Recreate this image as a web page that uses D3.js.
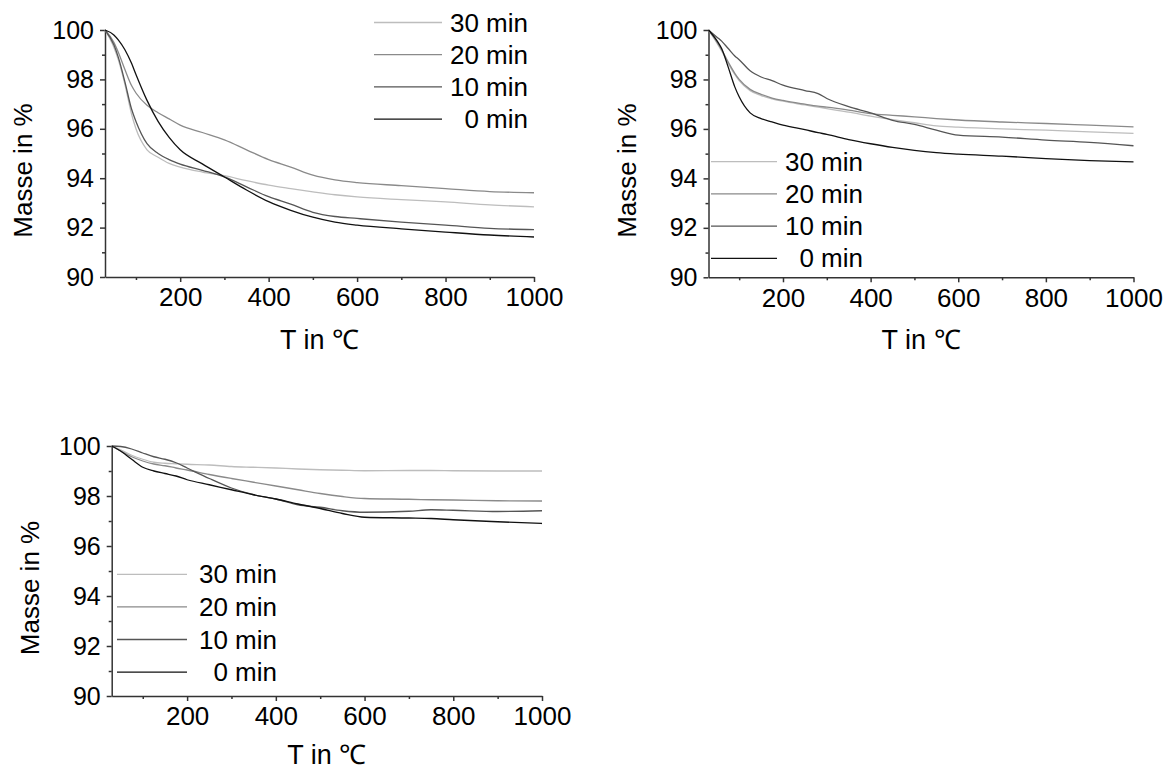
<!DOCTYPE html>
<html>
<head>
<meta charset="utf-8">
<script src="https://cdn.jsdelivr.net/npm/d3@7"></script>
<style>
  body { margin: 0; background: #fff; }
  svg { display: block; font-family: "Liberation Sans", Arial, sans-serif; }
</style>
</head>
<body>
<div id="app"></div>
<script>
// series names, legend order top to bottom
const seriesNames = ["30 min", "20 min", "10 min", "0 min"];
const seriesColors = ["#bdbdbd", "#8a8a8a", "#555555", "#111111"];

const yTicks = [90, 92, 94, 96, 98, 100];
const yMinor = [91, 93, 95, 97, 99];
const xTicks = [200, 400, 600, 800, 1000];
const xMinor = [100, 300, 500, 700, 900];

// panel 1 (top left)
const tempA = [30, 50, 60, 75, 90, 100, 125, 150, 175, 200, 250, 300, 350, 400, 450, 500, 550, 600, 700, 800, 900, 1000];
const massA30 = [100, 99.3, 98.8, 97.8, 96.6, 96.0, 95.15, 94.85, 94.6, 94.45, 94.25, 94.1, 93.9, 93.72, 93.58, 93.45, 93.33, 93.24, 93.13, 93.04, 92.92, 92.84];
const massA20 = [100, 99.5, 99.1, 98.4, 97.75, 97.45, 96.95, 96.65, 96.4, 96.15, 95.85, 95.55, 95.15, 94.75, 94.45, 94.12, 93.93, 93.82, 93.7, 93.58, 93.46, 93.41];
const massA10 = [100, 99.4, 98.9, 97.9, 96.8, 96.3, 95.4, 95.0, 94.75, 94.57, 94.32, 94.05, 93.65, 93.25, 92.95, 92.62, 92.45, 92.37, 92.22, 92.1, 91.97, 91.92];
const massA0 = [100, 99.8, 99.6, 99.2, 98.65, 98.2, 97.15, 96.3, 95.65, 95.15, 94.58, 94.05, 93.52, 93.05, 92.7, 92.42, 92.22, 92.1, 91.95, 91.82, 91.7, 91.62];

// panel 2 (top right)
const tempB = [30, 50, 60, 75, 90, 100, 125, 150, 175, 200, 250, 280, 300, 350, 400, 450, 500, 550, 600, 700, 800, 900, 1000];
const massB30 = [100, 99.45, 99.15, 98.65, 98.2, 97.95, 97.55, 97.35, 97.22, 97.12, 96.97, 96.88, 96.82, 96.68, 96.52, 96.38, 96.25, 96.12, 96.07, 96.0, 95.95, 95.88, 95.82];
const massB20 = [100, 99.5, 99.2, 98.7, 98.25, 98.0, 97.6, 97.4, 97.25, 97.15, 97.0, 96.92, 96.88, 96.76, 96.62, 96.55, 96.49, 96.42, 96.36, 96.28, 96.22, 96.15, 96.08];
const massB10 = [100, 99.7, 99.55, 99.25, 98.95, 98.8, 98.35, 98.1, 97.95, 97.77, 97.55, 97.43, 97.23, 96.9, 96.65, 96.35, 96.18, 95.95, 95.75, 95.67, 95.55, 95.46, 95.32];
const massB0 = [100, 99.55, 99.25, 98.5, 97.7, 97.3, 96.65, 96.42, 96.28, 96.15, 95.97, 95.85, 95.78, 95.57, 95.4, 95.25, 95.13, 95.04, 94.98, 94.9, 94.8, 94.72, 94.67];

// panel 3 (bottom left)
const tempC = [30, 50, 75, 100, 125, 150, 175, 200, 250, 300, 350, 400, 450, 500, 550, 600, 700, 750, 800, 900, 1000];
const massC30 = [100, 99.85, 99.63, 99.47, 99.35, 99.31, 99.29, 99.27, 99.24, 99.18, 99.15, 99.12, 99.08, 99.05, 99.03, 99.01, 99.02, 99.02, 99.01, 99.0, 99.0];
const massC20 = [100, 99.8, 99.57, 99.4, 99.28, 99.21, 99.12, 99.04, 98.86, 98.7, 98.55, 98.4, 98.25, 98.1, 97.98, 97.9, 97.87, 97.85, 97.84, 97.81, 97.8];
const massC10 = [100, 99.98, 99.88, 99.72, 99.57, 99.47, 99.33, 99.12, 98.7, 98.32, 98.05, 97.88, 97.65, 97.55, 97.41, 97.35, 97.39, 97.45, 97.43, 97.38, 97.41];
const massC0 = [100, 99.8, 99.47, 99.15, 99.0, 98.9, 98.8, 98.65, 98.45, 98.25, 98.05, 97.88, 97.68, 97.5, 97.3, 97.15, 97.12, 97.1, 97.05, 96.97, 96.9];

// panel placement + legend placement
const panels = [
  { temps: tempA, series: [massA30, massA20, massA10, massA0],
    box: [105, 534, 30, 277], titleY: 72, legend: { x1: 374, x2: 442, tx: 528, y: 22.5, dy: 32.2 } },
  { temps: tempB, series: [massB30, massB20, massB10, massB0],
    box: [708.5, 1133.5, 30, 277.3], titleY: 72, legend: { x1: 711, x2: 777, tx: 863, y: 161.7, dy: 32.2 } },
  { temps: tempC, series: [massC30, massC20, massC10, massC0],
    box: [111.7, 542, 446, 696], titleY: 68, legend: { x1: 117, x2: 187, tx: 277, y: 574.3, dy: 32.6 } }
];

const svg = d3.select("#app").append("svg").attr("width", 1168).attr("height", 771);

//draw one panel
const drawPanel = (p) => {
  const [left, right, top, bottom] = p.box;
  const x = d3.scaleLinear().domain([30, 1000]).range([left, right]);
  const y = d3.scaleLinear().domain([90, 100]).range([bottom, top]);
  const g = svg.append("g");

  // minor ticks
  g.append("g").attr("transform", `translate(0,${bottom})`)
    .call(d3.axisBottom(x).tickValues(xMinor).tickSize(3).tickFormat("").tickSizeOuter(0))
    .call((s) => s.select(".domain").remove());
  g.append("g").attr("transform", `translate(${left},0)`)
    .call(d3.axisLeft(y).tickValues(yMinor).tickSize(3).tickFormat("").tickSizeOuter(0))
    .call((s) => s.select(".domain").remove());

  // major ticks
  const xa = g.append("g").attr("transform", `translate(0,${bottom})`)
    .call(d3.axisBottom(x).tickValues(xTicks).tickFormat(d3.format("d")).tickSize(5).tickPadding(6).tickSizeOuter(0));
  xa.selectAll("text").style("font-size", "26px").attr("fill", "#000");
  const ya = g.append("g").attr("transform", `translate(${left},0)`)
    .call(d3.axisLeft(y).tickValues(yTicks).tickFormat(d3.format("d")).tickSize(5).tickPadding(6).tickSizeOuter(0));
  ya.selectAll("text").style("font-size", "25px").attr("fill", "#000");
  g.selectAll(".domain, .tick line").attr("stroke", "#333").attr("stroke-width", 1.5);

  // axis titles
  g.append("text")
    .attr("x", (left + right) / 2).attr("y", bottom + p.titleY)
    .attr("text-anchor", "middle").style("font-size", "27px")
    .text("T in ℃");
  g.append("text")
    .attr("transform", `translate(${left - 73},${(top + bottom) / 2 + 17}) rotate(-90)`)
    .attr("text-anchor", "middle").style("font-size", "26px")
    .text("Masse in %");

  // curves
  const line = d3.line()
    .x((d) => x(d[0]))
    .y((d) => y(d[1]))
    .curve(d3.curveMonotoneX);
  p.series.forEach((vals, i) => {
    g.append("path")
      .datum(p.temps.map((t, k) => [t, vals[k]]))
      .attr("d", line)
      .attr("fill", "none")
      .attr("stroke", seriesColors[i])
      .attr("stroke-width", 1.3);
  });

  // legend
  const L = p.legend;
  seriesNames.forEach((name, i) => {
    const ly = L.y + L.dy * i;
    g.append("line")
      .attr("x1", L.x1).attr("x2", L.x2).attr("y1", ly).attr("y2", ly)
      .attr("stroke", seriesColors[i]).attr("stroke-width", 1.3);
    g.append("text")
      .attr("x", L.tx).attr("y", ly + 9)
      .attr("text-anchor", "end").style("font-size", "26px")
      .text(name);
  });
};

panels.forEach(drawPanel);
</script>
</body>
</html>
